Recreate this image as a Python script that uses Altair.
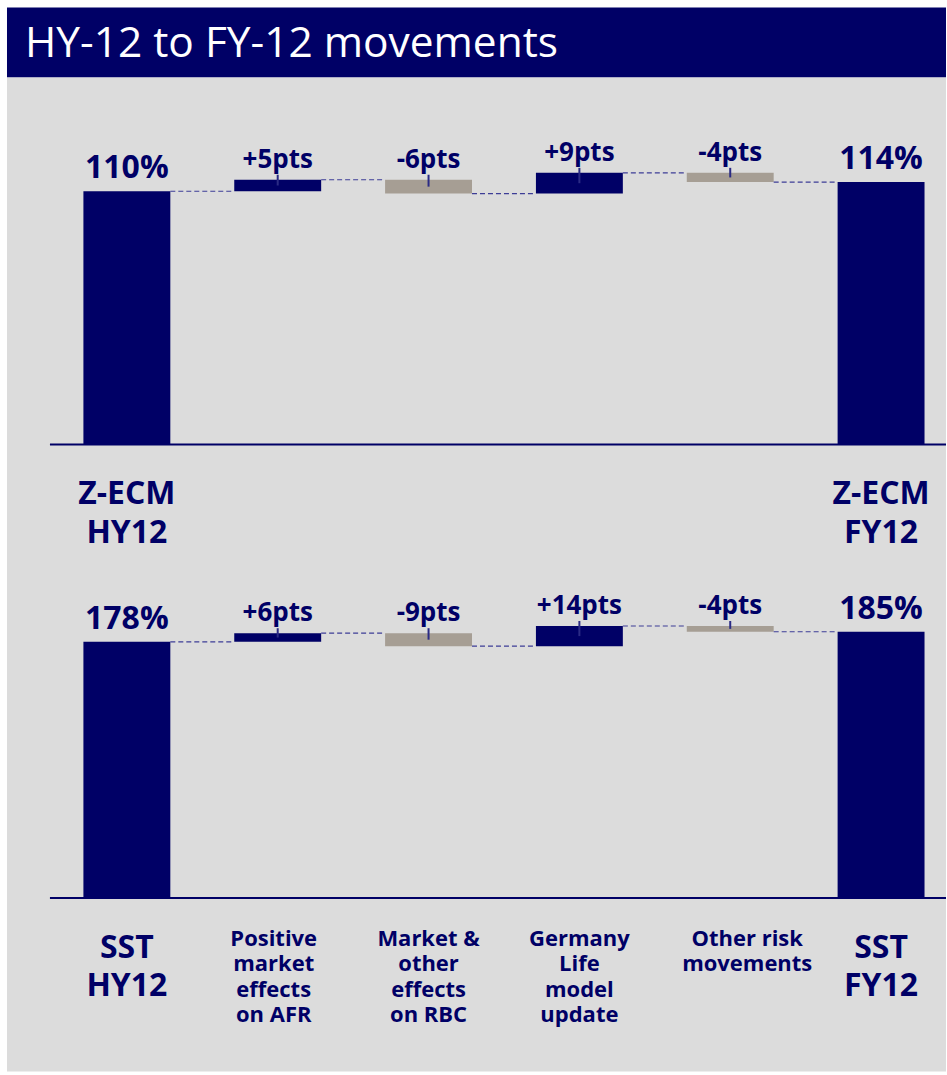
import altair as alt
import pandas as pd

# ---------------- data ----------------
title_text = "HY-12 to FY-12 movements"
steps = ["HY12", "AFR", "RBC", "Life", "Other", "FY12"]
kinds = ["total", "delta", "delta", "delta", "delta", "total"]
zecm_values = [110, 5, -6, 9, -4, 114]
sst_values = [178, 6, -9, 14, -4, 185]
zecm_names = ["Z-ECM\nHY12", "", "", "", "", "Z-ECM\nFY12"]
sst_names = [
    "SST\nHY12",
    "Positive\nmarket\neffects\non AFR",
    "Market &\nother\neffects\non RBC",
    "Germany\nLife\nmodel\nupdate",
    "Other risk\nmovements",
    "SST\nFY12",
]

# ---------------- styles ----------------
NAVY = "#000066"
GREY = "#a69e94"
BG = "#dcdcdc"
DASH = "#3d3d96"
TICK = "#2b2b85"
FONT = "Open Sans"
W = 940
label_nudge = {"AFR": -4, "Other": 17}

xscale = alt.Scale(domain=steps, range=[44.5, 950.5], paddingInner=0.4238, paddingOuter=0.2119)


def frames(values, names):
    rows, level = [], 0
    for s, k, v, n in zip(steps, kinds, values, names):
        if k == "total":
            start, end, label, tone = 0, v, f"{v}%", "navy"
        else:
            start, end, label = level, level + v, f"{v:+d}pts"
            tone = "navy" if v > 0 else "grey"
        level = end
        rows.append(dict(step=s, kind=k, start=start, end=end, top=max(start, end),
                         mid=(start + end) / 2, label=label, tone=tone, name=n))
    df = pd.DataFrame(rows)
    conn = pd.DataFrame([dict(step=steps[i], next=steps[i + 1], level=rows[i]["end"])
                         for i in range(len(steps) - 1)])
    return df, conn


def panel(values, names, domain, height, total_label_y, delta_label_y):
    df, conn = frames(values, names)
    ys = alt.Scale(domain=domain, nice=False, zero=False)
    X = alt.X("step:N", scale=xscale, axis=None)

    bars = alt.Chart(df).mark_bar().encode(
        x=X,
        y=alt.Y("start:Q", scale=ys, axis=None),
        y2="end:Q",
        color=alt.Color("tone:N", scale=alt.Scale(domain=["navy", "grey"], range=[NAVY, GREY]), legend=None),
    )
    connectors = alt.Chart(conn).mark_rule(
        color=DASH, strokeWidth=1.2, strokeDash=[5, 3], xOffset=43.5, x2Offset=-43.5
    ).encode(x=X, x2="next:N", y=alt.Y("level:Q", scale=ys, axis=None))
    ticks = alt.Chart(df[df.kind == "delta"]).mark_rule(
        color=TICK, strokeWidth=2, y2Offset=-5
    ).encode(x=X, y=alt.Y("mid:Q", scale=ys, axis=None), y2="top:Q")
    base = alt.Chart(pd.DataFrame({"zero": [0]})).mark_rule(color=NAVY, strokeWidth=2).encode(
        y=alt.Y("zero:Q", scale=ys, axis=None), x=alt.value(43), x2=alt.value(W)
    )
    total_vals = alt.Chart(df[df.kind == "total"]).mark_text(
        font=FONT, fontWeight="bold", fontSize=32, color=NAVY, baseline="alphabetic", dy=-13
    ).encode(x=X, y=alt.Y("top:Q", scale=ys, axis=None), text="label:N")
    delta_vals = alt.Chart(df[df.kind == "delta"]).mark_text(
        font=FONT, fontWeight="bold", fontSize=26, color=NAVY, baseline="alphabetic", dy=-12
    ).encode(x=X, y=alt.Y("top:Q", scale=ys, axis=None), text="label:N")

    layers = [bars, connectors, ticks, base, total_vals, delta_vals]

    tot = df[(df.kind == "total") & (df.name != "")]
    layers.append(alt.Chart(tot).mark_text(
        font=FONT, fontWeight="bold", fontSize=32, lineHeight=38.5, color=NAVY,
        baseline="alphabetic", lineBreak="\n"
    ).encode(x=X, y=alt.value(total_label_y), text="name:N"))

    dl = df[(df.kind == "delta") & (df.name != "")]
    for s in dl.step:
        layers.append(alt.Chart(dl[dl.step == s]).mark_text(
            font=FONT, fontWeight="bold", fontSize=22, lineHeight=25.6, color=NAVY,
            baseline="alphabetic", lineBreak="\n", dx=label_nudge.get(s, 0)
        ).encode(x=X, y=alt.value(delta_label_y), text="name:N"))

    return alt.layer(*layers).properties(
        width=W, height=height, view=alt.ViewBackground(fill=BG, strokeWidth=0)
    )


header = alt.Chart(pd.DataFrame({"t": [title_text]})).mark_text(
    font=FONT, fontSize=42.5, color="white", align="left", baseline="alphabetic"
).encode(x=alt.value(18), y=alt.value(49.7), text="t:N").properties(
    width=W, height=70, view=alt.ViewBackground(fill=NAVY, strokeWidth=0)
)

top = panel(zecm_values, zecm_names, [-52.7, 159.4], 489, 427.3, 0)
bottom = panel(sst_values, sst_names, [-120.4, 230.7], 506, 392.3, 380)

chart = alt.vconcat(header, top, bottom, spacing=0).properties(
    padding={"left": 7, "top": 7, "right": 0, "bottom": 3}, background="white"
).configure_view(strokeWidth=0)

chart.save("out.html", embed_options={"renderer": "svg", "actions": False})
